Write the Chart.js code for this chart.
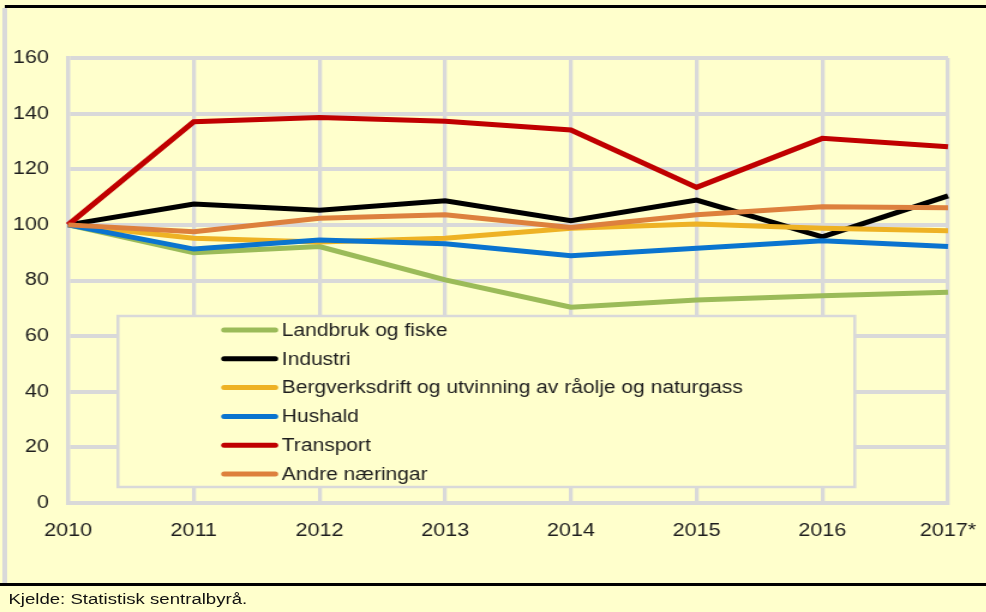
<!DOCTYPE html>
<html>
<head>
<meta charset="utf-8">
<script src="https://cdn.jsdelivr.net/npm/chart.js@4.4.1/dist/chart.umd.min.js"></script>
<style>
    html, body { margin: 0; padding: 0; background: #FFFFCC; overflow: hidden; }
    #stage {
        position: relative; width: 822px; height: 612px;
        transform: scaleX(1.2); transform-origin: 0 0;
        font-family: "Liberation Sans", Arial, sans-serif;
    }
    #topline { position: absolute; left: 4px; right: 0; top: 5px; height: 3px; background: #000; }
    #leftbar { position: absolute; left: 1.5px; width: 4px; top: 8px; height: 575px; background: #D9D9D9; }
    #bottomline { position: absolute; left: 0; right: 0; top: 583px; height: 3px; background: #000; }
    #source { position: absolute; left: 7px; top: 590px; font-size: 15.5px; color: #111; }
    #chart { position: absolute; left: 0; top: 0; }
</style>
</head>
<body>
<div id="stage">
    <div id="topline"></div>
    <div id="leftbar"></div>
    <canvas id="chart" width="822" height="612"></canvas>
    <div id="bottomline"></div>
    <div id="source">Kjelde: Statistisk sentralbyrå.</div>
</div>
<script>
var years = ['2010', '2011', '2012', '2013', '2014', '2015', '2016', '2017*'];
var yTicks = [0, 20, 40, 60, 80, 100, 120, 140, 160];

var landbruk  = [100, 90.0, 92.2, 80.2, 70.4, 73.0, 74.5, 75.8];
var industri  = [100, 107.5, 105.3, 108.7, 101.5, 108.9, 95.7, 110.4];
var bergverk  = [100, 95.2, 93.8, 95.2, 98.8, 100.3, 98.8, 97.9];
var hushald   = [100, 91.3, 94.6, 93.2, 88.9, 91.6, 94.3, 92.2];
var transport = [100, 137.1, 138.6, 137.3, 134.1, 113.5, 131.1, 128.1];
var andre     = [100, 97.5, 102.4, 103.6, 99.1, 103.6, 106.5, 106.2];

var seriesNames = ['Landbruk og fiske', 'Industri', 'Bergverksdrift og utvinning av råolje og naturgass',
                   'Hushald', 'Transport', 'Andre næringar'];
var seriesData = [landbruk, industri, bergverk, hushald, transport, andre];
var seriesColors = ['#9BBB59', '#000000', '#EEB224', '#0A74CF', '#C00000', '#DD803D'];

var gridColor = '#D9D9D9';
var textColor = '#1E1E1E';

// later series are painted on top, so give them the lower order
var datasets = seriesNames.map(function(name, i) {
    return {
        label: name,
        data: seriesData[i],
        borderColor: seriesColors[i],
        backgroundColor: seriesColors[i],
        borderWidth: 5,
        pointRadius: 0,
        tension: 0,
        fill: false,
        order: seriesNames.length - i
    };
});

// legend box sitting inside the plot, over the grid but under the lines
var boxLegend = {
    id: 'boxLegend',
    beforeDatasetsDraw: function(chart) {
        var ctx = chart.ctx;
        var a = chart.chartArea;
        var x = a.left + 41.6, y = a.top + 258, w = 614, h = 171;
        ctx.save();
        ctx.fillStyle = '#FFFFCC';
        ctx.fillRect(x, y, w, h);
        ctx.strokeStyle = gridColor;
        ctx.lineWidth = 2.5;
        ctx.strokeRect(x, y, w, h);
        ctx.font = '17.5px "Liberation Sans", Arial, sans-serif';
        ctx.textBaseline = 'middle';
        ctx.lineCap = 'round';
        chart.data.datasets.forEach(function(ds, i) {
            var cy = y + 14 + i * 28.8;
            ctx.strokeStyle = ds.borderColor;
            ctx.lineWidth = 5;
            ctx.beginPath();
            ctx.moveTo(x + 88.5, cy);
            ctx.lineTo(x + 131, cy);
            ctx.stroke();
            ctx.fillStyle = textColor;
            ctx.fillText(ds.label, x + 136.5, cy + 1);
        });
        ctx.restore();
    }
};

new Chart(document.getElementById('chart'), {
    type: 'line',
    data: { labels: years, datasets: datasets },
    plugins: [boxLegend],
    options: {
        responsive: false,
        animation: false,
        layout: { padding: { left: 0, top: 58, right: 32, bottom: 69 } },
        plugins: { legend: { display: false }, tooltip: { enabled: false } },
        scales: {
            x: {
                offset: false,
                // invisible tick marks push the year labels down without widening the right margin
                grid: { color: gridColor, lineWidth: 3.3, drawTicks: true, tickLength: 9, tickColor: 'rgba(0,0,0,0)' },
                border: { color: gridColor, width: 4 },
                ticks: {
                    color: textColor, padding: 8, maxRotation: 0, autoSkip: false,
                    font: { family: '"Liberation Sans", Arial, sans-serif', size: 18 }
                },
                afterFit: function(s) { s.height = 40; }
            },
            y: {
                min: 0, max: 160,
                afterBuildTicks: function(s) { s.ticks = yTicks.map(function(v) { return { value: v }; }); },
                grid: { color: gridColor, lineWidth: 4, drawTicks: false },
                border: { color: gridColor, width: 3.3 },
                ticks: {
                    color: textColor, padding: 16,
                    font: { family: '"Liberation Sans", Arial, sans-serif', size: 18 }
                },
                afterFit: function(s) { s.width = 56.7; }
            }
        }
    }
});
</script>
</body>
</html>
